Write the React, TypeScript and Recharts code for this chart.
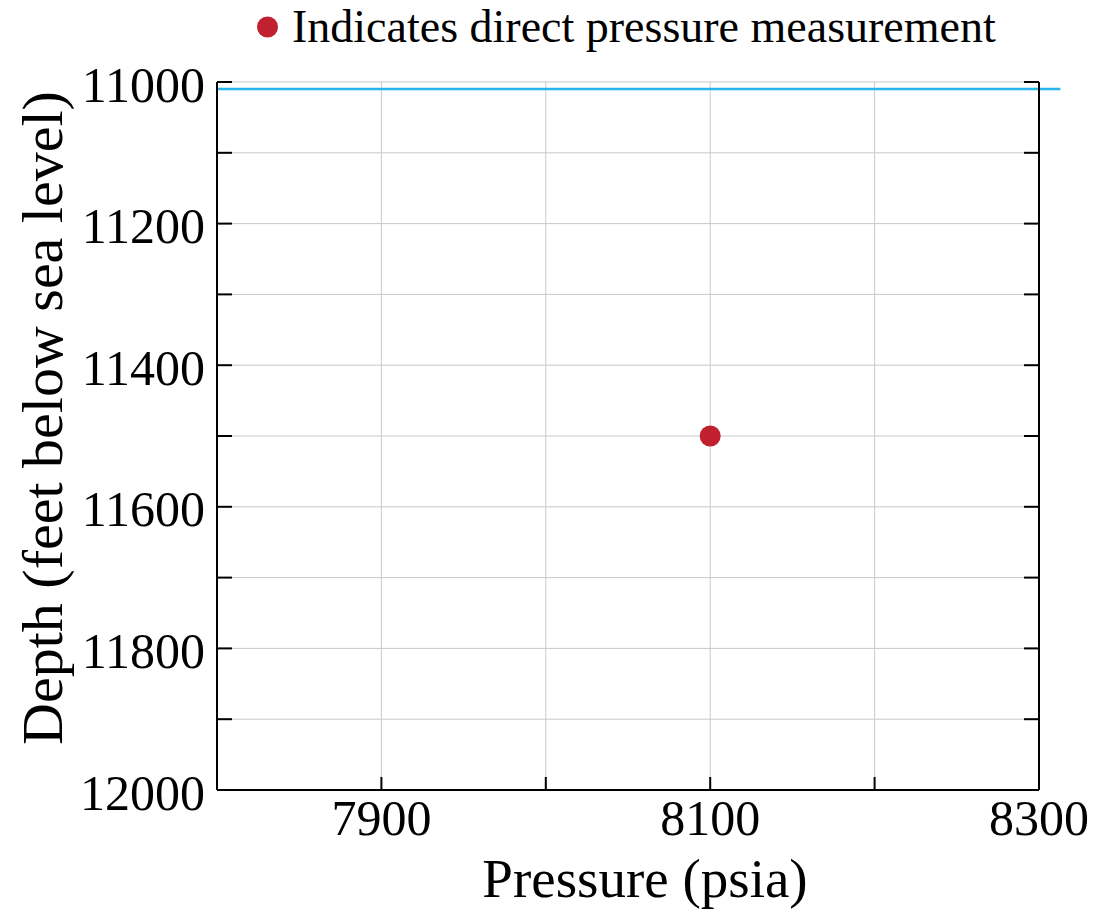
import React from "react";
import { ScatterChart, Scatter, XAxis, YAxis, CartesianGrid, ReferenceLine } from "recharts";

// values
const pressureTicks = [7900, 8000, 8100, 8200, 8300];
const pressureLabels = [7900, 8100, 8300];
const depthTicks = [11000, 11100, 11200, 11300, 11400, 11500, 11600, 11700, 11800, 11900, 12000];
const depthLabels = [11000, 11200, 11400, 11600, 11800, 12000];
const measurements = [{ pressure: 8100, depth: 11500 }];
const contactDepth = 11010;
const contactPressure = [7800, 8313];

const FONT = '"Liberation Serif", "Times New Roman", serif';
const RED = "#c1202f";

// ticks are mirrored so the tick marks point into the plot; labels are pushed back outside
const XTick = (props: any) => {
  const { x, y, payload } = props;
  if (!pressureLabels.includes(payload.value)) return <g />;
  return (
    <text x={x} y={y + 58} textAnchor="middle" fontSize={50} fontFamily={FONT} fill="#000">
      {payload.value}
    </text>
  );
};

const YTick = (props: any) => {
  const { x, y, payload } = props;
  if (!depthLabels.includes(payload.value)) return <g />;
  return (
    <text x={x - 27} y={y} dy="0.39em" textAnchor="end" fontSize={50} fontFamily={FONT} fill="#000">
      {payload.value}
    </text>
  );
};

const YLabel = () => {
  const cx = 62;
  const cy = 418;
  return (
    <text x={cx} y={cy} transform={`rotate(-90, ${cx}, ${cy})`} textAnchor="middle" fontSize={58} fontFamily={FONT} fill="#000">
      Depth (feet below sea level)
    </text>
  );
};

const XLabel = () => (
  <text x={645} y={897} textAnchor="middle" fontSize={55} fontFamily={FONT} fill="#000">
    Pressure (psia)
  </text>
);

const Dot = (props: any) => <circle cx={props.cx} cy={props.cy} r={10.5} fill={RED} />;

export default function App() {
  return (
    <div style={{ position: "absolute", left: 0, top: 0, width: 1093, height: 921, background: "#fff" }}>
      <svg width={1093} height={60} style={{ position: "absolute", left: 0, top: 0 }}>
        <circle cx={267.5} cy={27} r={10.5} fill={RED} />
        <text x={292} y={42} fontSize={46} fontFamily={FONT} fill="#000">
          Indicates direct pressure measurement
        </text>
      </svg>
      <ScatterChart width={1093} height={921} margin={{ top: 82, right: 54, bottom: 131, left: 217 }}>
        <CartesianGrid stroke="#c9c9c9" strokeWidth={1} />
        <XAxis
          type="number"
          dataKey="pressure"
          domain={[7800, 8300]}
          ticks={pressureTicks}
          allowDataOverflow
          mirror
          height={60}
          tickSize={13}
          tickMargin={0}
          tick={<XTick />}
          axisLine={{ stroke: "#000", strokeWidth: 2 }}
          tickLine={{ stroke: "#000", strokeWidth: 2 }}
          label={<XLabel />}
        />
        <XAxis
          xAxisId="top"
          orientation="top"
          type="number"
          domain={[7800, 8300]}
          allowDataOverflow
          height={0}
          tick={false}
          tickLine={false}
          axisLine={{ stroke: "#000", strokeWidth: 2 }}
        />
        <YAxis
          type="number"
          dataKey="depth"
          domain={[11000, 12000]}
          ticks={depthTicks}
          reversed
          allowDataOverflow
          mirror
          width={60}
          tickSize={15}
          tickMargin={0}
          tick={<YTick />}
          axisLine={{ stroke: "#000", strokeWidth: 2 }}
          tickLine={{ stroke: "#000", strokeWidth: 2 }}
          label={<YLabel />}
        />
        <YAxis
          yAxisId="right"
          orientation="right"
          type="number"
          domain={[11000, 12000]}
          ticks={depthTicks}
          reversed
          allowDataOverflow
          mirror
          width={60}
          tickSize={15}
          tick={() => <g />}
          axisLine={{ stroke: "#000", strokeWidth: 2 }}
          tickLine={{ stroke: "#000", strokeWidth: 2 }}
        />
        <ReferenceLine
          segment={[
            { x: contactPressure[0], y: contactDepth },
            { x: contactPressure[1], y: contactDepth },
          ]}
          ifOverflow="visible"
          stroke="#29b4ea"
          strokeWidth={2.5}
        />
        <Scatter data={measurements} shape={<Dot />} isAnimationActive={false} />
      </ScatterChart>
    </div>
  );
}
